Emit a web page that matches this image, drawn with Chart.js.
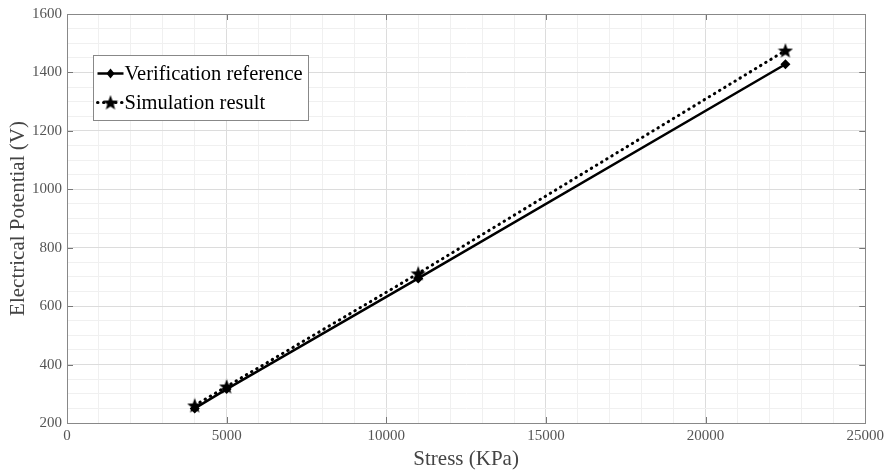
<!DOCTYPE html>
<html>
<head>
<meta charset="utf-8">
<script src="https://cdn.jsdelivr.net/npm/chart.js@4/dist/chart.umd.min.js"></script>
<style>
html,body{margin:0;padding:0;background:#fff;}
#wrap{width:888px;height:475px;position:relative;}
</style>
</head>
<body>
<div id="wrap"><canvas id="c" width="888" height="475"></canvas></div>
<script>
// ---- data ----
const stressKPa = [4000, 5000, 11000, 22500];
const verificationRef = [250, 316, 695, 1428];
const simulationRes = [260, 325, 712, 1475];
const seriesNames = ['Verification reference', 'Simulation result'];
const xTitle = 'Stress (KPa)';
const yTitle = 'Electrical Potential (V)';
const xMajorTicks = [0, 5000, 10000, 15000, 20000, 25000];
const yMajorTicks = [200, 400, 600, 800, 1000, 1200, 1400, 1600];

const FONT = '"Liberation Serif", "Times New Roman", serif';

function makeStar(size) {
  const c = document.createElement('canvas');
  c.width = size; c.height = size;
  const g = c.getContext('2d');
  const cx = size / 2, cy = size / 2 + 0.6, R = size / 2, r = R * 0.42;
  g.beginPath();
  for (let i = 0; i < 10; i++) {
    const a = -Math.PI / 2 + i * Math.PI / 5;
    const rad = i % 2 === 0 ? R : r;
    g.lineTo(cx + rad * Math.cos(a), cy + rad * Math.sin(a));
  }
  g.closePath();
  g.fillStyle = '#000';
  g.fill();
  return c;
}
const starImg = makeStar(16);

const toXY = (xs, ys) => xs.map((x, i) => ({x: x, y: ys[i]}));

const innerTicks = {
  id: 'innerTicks',
  afterDatasetsDraw(chart) {
    const {ctx, chartArea: a, scales: {x, y}} = chart;
    ctx.save();
    ctx.strokeStyle = '#777';
    ctx.lineWidth = 1;
    ctx.beginPath();
    xMajorTicks.forEach(v => {
      const px = Math.round(x.getPixelForValue(v)) + 0.5;
      ctx.moveTo(px, a.bottom); ctx.lineTo(px, a.bottom - 6);
      ctx.moveTo(px, a.top); ctx.lineTo(px, a.top + 6);
    });
    yMajorTicks.forEach(v => {
      const py = Math.round(y.getPixelForValue(v)) + 0.5;
      ctx.moveTo(a.left, py); ctx.lineTo(a.left + 6, py);
      ctx.moveTo(a.right, py); ctx.lineTo(a.right - 6, py);
    });
    ctx.stroke();
    ctx.restore();
  }
};

const boxLegend = {
  id: 'boxLegend',
  afterDraw(chart) {
    const ctx = chart.ctx;
    const bx = 93.5, by = 55.5, bw = 215, bh = 65;
    ctx.save();
    ctx.fillStyle = '#fff';
    ctx.fillRect(bx, by, bw, bh);
    ctx.strokeStyle = '#888';
    ctx.lineWidth = 1;
    ctx.strokeRect(bx, by, bw, bh);
    chart.data.datasets.forEach((ds, i) => {
      const yy = by + 18 + i * 29;
      ctx.strokeStyle = '#000';
      ctx.lineWidth = ds.borderWidth;
      ctx.lineCap = ds.borderCapStyle || 'butt';
      ctx.setLineDash(ds.borderDash || []);
      ctx.beginPath();
      ctx.moveTo(bx + 4, yy); ctx.lineTo(bx + 30, yy);
      ctx.stroke();
      ctx.setLineDash([]);
      const mx = bx + 17;
      if (ds.pointStyle === 'rectRot') {
        ctx.fillStyle = '#000';
        ctx.beginPath();
        const r = ds.pointRadius;
        ctx.moveTo(mx, yy - r); ctx.lineTo(mx + r * 0.8, yy); ctx.lineTo(mx, yy + r); ctx.lineTo(mx - r * 0.8, yy);
        ctx.closePath(); ctx.fill();
      } else {
        ctx.drawImage(starImg, mx - 8, yy - 8);
      }
      ctx.fillStyle = '#000';
      ctx.font = '20.5px ' + FONT;
      ctx.textBaseline = 'middle';
      ctx.textAlign = 'left';
      ctx.fillText(ds.label, bx + 31, yy + 1);
    });
    ctx.restore();
  }
};

new Chart(document.getElementById('c'), {
  type: 'line',
  data: {
    datasets: [
      {
        label: seriesNames[0],
        data: toXY(stressKPa, verificationRef),
        borderColor: '#000',
        backgroundColor: '#000',
        borderWidth: 2.5,
        pointStyle: 'rectRot',
        pointRadius: 5,
        pointBorderWidth: 0,
        tension: 0
      },
      {
        label: seriesNames[1],
        data: toXY(stressKPa, simulationRes),
        borderColor: '#000',
        backgroundColor: '#000',
        borderWidth: 3,
        borderDash: [0.5, 5.5],
        borderCapStyle: 'round',
        pointStyle: starImg,
        pointRadius: 8,
        tension: 0
      }
    ]
  },
  options: {
    responsive: false,
    animation: false,
    layout: {padding: {top: 12, right: 22, left: 0, bottom: 0}},
    plugins: {legend: {display: false}, tooltip: {enabled: false}},
    scales: {
      x: {
        type: 'linear',
        min: 0, max: 25000,
        afterFit: s => { s.height = 52; },
        afterBuildTicks: s => {
          const t = [];
          for (let v = 0; v <= 25000; v += 1000) t.push({value: v});
          s.ticks = t;
        },
        ticks: {
          autoSkip: false, maxRotation: 0, padding: 4,
          color: '#555', font: {family: FONT, size: 15},
          callback: v => (v % 5000 === 0 ? String(v) : '')
        },
        grid: {
          drawTicks: false,
          color: c => (c.tick && c.tick.value % 5000 === 0 ? '#dcdcdc' : '#f0f0f0'),
          lineWidth: 1
        },
        border: {color: '#888', width: 1},
        title: {display: true, text: xTitle, color: '#444', font: {family: FONT, size: 21}, padding: {top: 0, bottom: 3}}
      },
      y: {
        type: 'linear',
        min: 200, max: 1600,
        afterFit: s => { s.width = 67; },
        afterBuildTicks: s => {
          const t = [];
          for (let v = 200; v <= 1600; v += 50) t.push({value: v});
          s.ticks = t;
        },
        ticks: {
          autoSkip: false, padding: 5,
          color: '#555', font: {family: FONT, size: 15},
          callback: v => (v % 200 === 0 ? String(v) : '')
        },
        grid: {
          drawTicks: false,
          color: c => (c.tick && c.tick.value % 200 === 0 ? '#dcdcdc' : '#f0f0f0'),
          lineWidth: 1
        },
        border: {color: '#888', width: 1},
        title: {display: true, text: yTitle, color: '#444', font: {family: FONT, size: 21}, padding: {top: 6, bottom: 2}}
      }
    }
  },
  plugins: [innerTicks, boxLegend,
    {
      id: 'frame',
      afterDraw(chart) {
        const {ctx, chartArea: a} = chart;
        ctx.save();
        ctx.strokeStyle = '#888';
        ctx.lineWidth = 1;
        ctx.strokeRect(Math.round(a.left) + 0.5, Math.round(a.top) + 0.5, Math.round(a.right - a.left) , Math.round(a.bottom - a.top));
        ctx.restore();
      }
    }
  ]
});
</script>
</body>
</html>
